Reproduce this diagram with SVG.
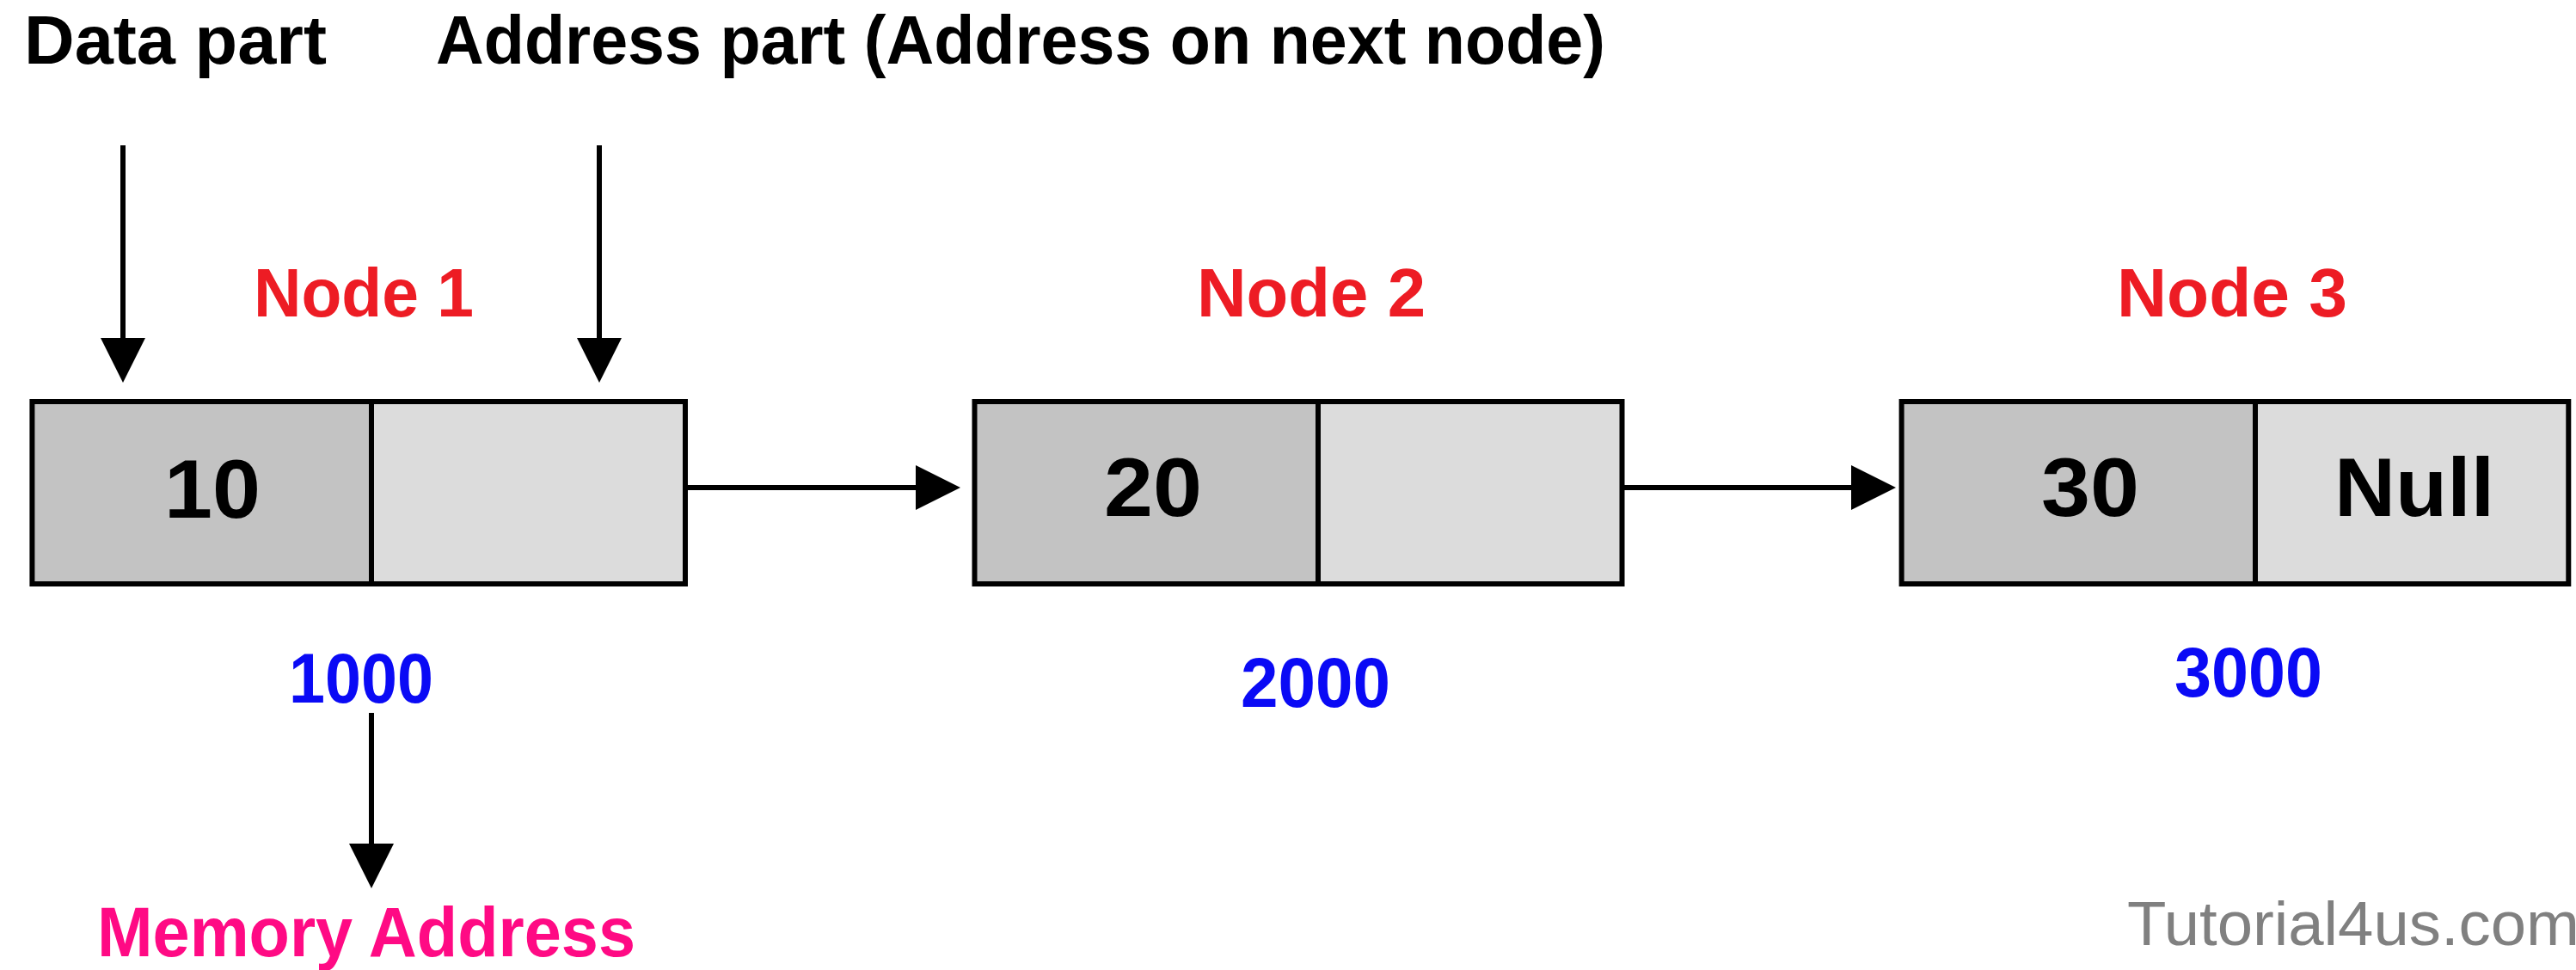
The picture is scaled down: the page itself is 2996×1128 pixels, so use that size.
<svg xmlns="http://www.w3.org/2000/svg" width="2996" height="1128" viewBox="0 0 2996 1128">
  <defs>
    <marker id="head" viewBox="0 0 52 52" refX="0" refY="26" markerWidth="52" markerHeight="52" markerUnits="userSpaceOnUse" orient="auto">
      <path d="M0,0 L52,26 L0,52 Z" fill="#000"/>
    </marker>
  </defs>
  <style>
    text { font-family: "Liberation Sans", Arial, sans-serif; font-weight: bold; text-anchor: middle; }
    .label { font-size: 80px; fill: #000; }
    .title { font-size: 80px; fill: #ED1C24; }
    .value { font-size: 96px; fill: #000; }
    .addr { font-size: 82px; fill: #0A0AF5; }
    .mem { font-size: 82px; fill: #FF0A84; }
    .mark { font-size: 73px; font-weight: normal; fill: #808080; text-anchor: start; }
    .box { fill: none; stroke: #000; stroke-width: 6; }
    .data { fill: #C3C3C3; }
    .next { fill: #DCDCDC; }
    .div { stroke: #000; stroke-width: 6; }
    .link { stroke: #000; stroke-width: 6; fill: none; marker-end: url(#head); }
  </style>
  <rect width="2996" height="1128" fill="#fff"/>

  <!-- annotations -->
  <g id="annotations">
    <text class="label" x="204" y="74" textLength="352" lengthAdjust="spacingAndGlyphs">Data part</text>
    <text class="label" x="1187" y="74" textLength="1360" lengthAdjust="spacingAndGlyphs">Address part (Address on next node)</text>
    <text class="mem" x="426" y="1112" textLength="626" lengthAdjust="spacingAndGlyphs">Memory Address</text>
    <text class="mark" x="2474" y="1099" textLength="526" lengthAdjust="spacingAndGlyphs">Tutorial4us.com</text>
  </g>

  <!-- node 1 -->
  <g id="node1">
    <text class="title" x="423" y="368" textLength="256" lengthAdjust="spacingAndGlyphs">Node 1</text>
    <rect class="data" x="37" y="467" width="395" height="212"/>
    <rect class="next" x="432" y="467" width="365" height="212"/>
    <line class="div" x1="432" y1="467" x2="432" y2="679"/>
    <rect class="box" x="37.4" y="467" width="759.6" height="212"/>
    <text class="value" x="247" y="602" textLength="112" lengthAdjust="spacingAndGlyphs">10</text>
    <text class="addr" x="420" y="817" textLength="168" lengthAdjust="spacingAndGlyphs">1000</text>
  </g>

  <!-- node 2 -->
  <g id="node2">
    <text class="title" x="1525" y="368" textLength="266" lengthAdjust="spacingAndGlyphs">Node 2</text>
    <rect class="data" x="1133.5" y="467" width="400" height="212"/>
    <rect class="next" x="1533.5" y="467" width="353" height="212"/>
    <line class="div" x1="1533" y1="467" x2="1533" y2="679"/>
    <rect class="box" x="1133.5" y="467" width="753" height="212"/>
    <text class="value" x="1341" y="600" textLength="114" lengthAdjust="spacingAndGlyphs">20</text>
    <text class="addr" x="1530" y="822" textLength="174" lengthAdjust="spacingAndGlyphs">2000</text>
  </g>

  <!-- node 3 -->
  <g id="node3">
    <text class="title" x="2596" y="368" textLength="268" lengthAdjust="spacingAndGlyphs">Node 3</text>
    <rect class="data" x="2211.6" y="467" width="411.4" height="212"/>
    <rect class="next" x="2623" y="467" width="364.3" height="212"/>
    <line class="div" x1="2623" y1="467" x2="2623" y2="679"/>
    <rect class="box" x="2211.6" y="467" width="775.7" height="212"/>
    <text class="value" x="2431" y="600" textLength="114" lengthAdjust="spacingAndGlyphs">30</text>
    <text class="value" x="2808" y="600" textLength="186" lengthAdjust="spacingAndGlyphs">Null</text>
    <text class="addr" x="2615" y="810" textLength="172" lengthAdjust="spacingAndGlyphs">3000</text>
  </g>

  <!-- connectors -->
  <g id="connectors">
    <line class="link" x1="143" y1="169" x2="143" y2="393"/>
    <line class="link" x1="697" y1="169" x2="697" y2="393"/>
    <line class="link" x1="432" y1="829" x2="432" y2="981"/>
    <line class="link" x1="800" y1="567" x2="1065" y2="567"/>
    <line class="link" x1="1889" y1="567" x2="2153" y2="567"/>
  </g>
</svg>
